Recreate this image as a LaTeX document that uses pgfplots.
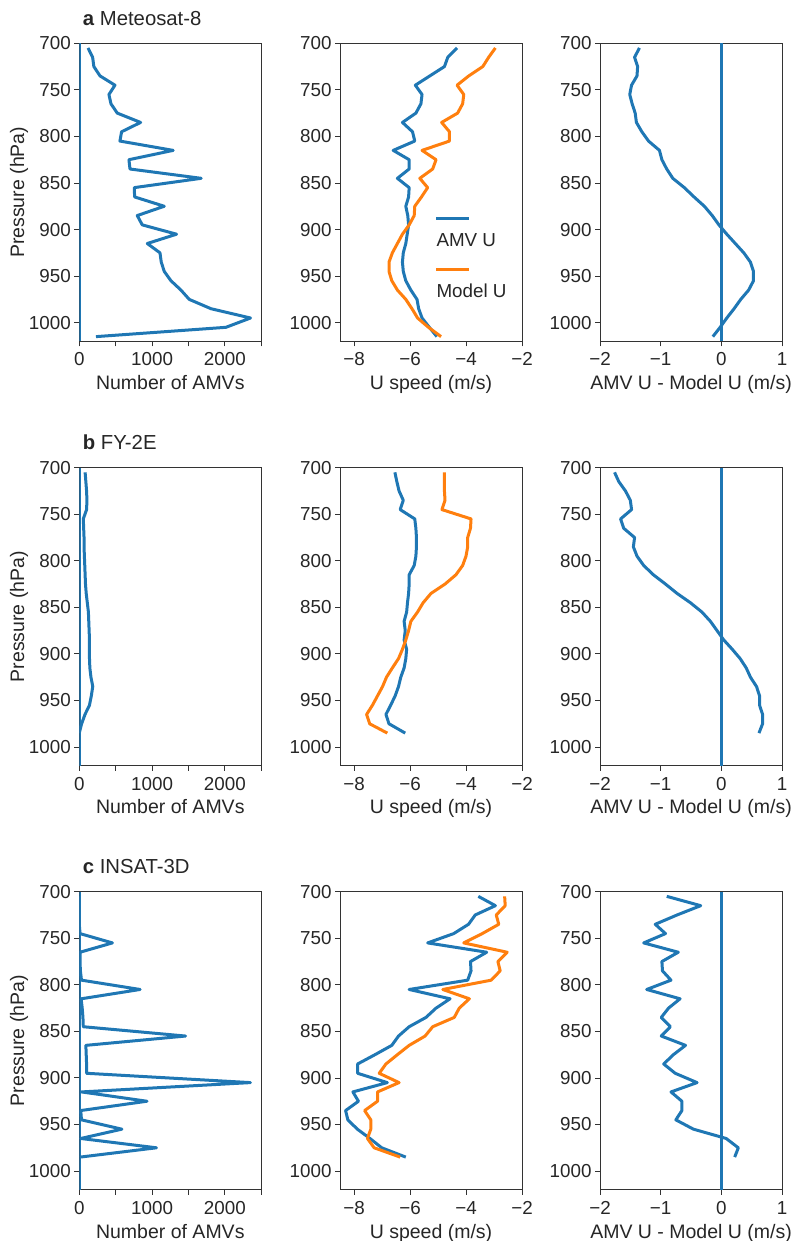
\documentclass[border=0pt]{standalone}
\usepackage{fontspec}
\setmainfont{Liberation Sans}
\usepackage{pgfplots}
\usepackage{pgfplotstable}
\pgfplotsset{compat=1.18}
\definecolor{mblue}{HTML}{1F77B4}
\definecolor{morange}{HTML}{FF7F0E}

\pgfplotstableread{
p n amv mod diff
705 120 -4.32 -2.95 -1.35
715 183 -4.65 -3.19 -1.43
725 200 -4.77 -3.40 -1.38
735 284 -5.29 -3.90 -1.39
745 490 -5.81 -4.32 -1.48
755 407 -5.57 -4.08 -1.51
765 435 -5.61 -4.12 -1.47
775 522 -5.79 -4.30 -1.42
785 842 -6.27 -4.87 -1.40
795 581 -5.91 -4.59 -1.31
805 558 -5.83 -4.59 -1.20
815 1290 -6.60 -5.57 -1.02
825 682 -6.03 -5.07 -0.98
835 696 -6.03 -5.19 -0.90
845 1675 -6.45 -5.65 -0.80
855 755 -6.03 -5.37 -0.61
865 760 -6.05 -5.59 -0.45
875 1167 -6.15 -5.83 -0.28
885 796 -6.08 -5.85 -0.15
895 865 -6.05 -6.03 -0.04
905 1336 -6.10 -6.27 0.09
915 934 -6.15 -6.45 0.23
925 1108 -6.24 -6.63 0.37
935 1126 -6.27 -6.75 0.48
945 1167 -6.24 -6.75 0.53
955 1259 -6.15 -6.65 0.53
965 1396 -5.97 -6.45 0.45
975 1510 -5.75 -6.15 0.32
985 1808 -5.69 -5.93 0.21
995 2352 -5.57 -5.73 0.09
1005 2014 -5.31 -5.34 -0.02
1015 229 -5.04 -4.89 -0.14
}\tabA

\pgfplotstableread{
p n amv mod diff
705 80 -6.54 -4.77 -1.76
715 90 -6.47 -4.77 -1.69
725 100 -6.39 -4.77 -1.58
735 105 -6.24 -4.75 -1.50
745 100 -6.35 -4.86 -1.48
755 55 -5.83 -3.82 -1.66
765 60 -5.79 -3.84 -1.61
775 65 -5.77 -3.94 -1.43
785 65 -5.77 -3.94 -1.45
795 70 -5.79 -4.00 -1.39
805 75 -5.85 -4.12 -1.28
815 80 -6.03 -4.36 -1.12
825 85 -6.03 -4.75 -0.92
835 95 -6.05 -5.25 -0.73
845 110 -6.09 -5.53 -0.51
855 125 -6.12 -5.73 -0.32
865 130 -6.21 -5.97 -0.18
875 135 -6.17 -6.05 -0.07
885 140 -6.21 -6.15 0.04
895 140 -6.12 -6.27 0.18
905 140 -6.15 -6.41 0.31
915 145 -6.21 -6.63 0.41
925 160 -6.33 -6.84 0.48
935 185 -6.41 -6.98 0.58
945 165 -6.53 -7.16 0.63
955 140 -6.69 -7.34 0.63
965 78 -6.86 -7.55 0.68
975 32 -6.75 -7.44 0.68
985 0 -6.17 -6.81 0.62
}\tabB

\pgfplotstableread{
p n amv mod diff
705 0 -3.56 -2.62 -0.90
715 0 -2.95 -2.60 -0.34
725 0 -3.67 -2.92 -0.73
735 0 -3.91 -2.83 -1.09
745 10 -4.44 -3.42 -0.92
755 455 -5.37 -4.08 -1.28
765 10 -3.26 -2.53 -0.71
775 10 -3.84 -2.86 -0.98
785 15 -3.82 -2.78 -0.97
795 30 -3.94 -3.10 -0.83
805 835 -6.03 -4.83 -1.23
815 25 -4.57 -3.88 -0.68
825 40 -5.07 -4.24 -0.87
835 50 -5.43 -4.42 -0.99
845 55 -6.03 -5.19 -0.84
855 1460 -6.41 -5.46 -0.99
865 90 -6.65 -6.03 -0.59
875 95 -7.25 -6.45 -0.79
885 100 -7.87 -6.86 -0.95
895 100 -7.87 -7.10 -0.76
905 2350 -6.81 -6.39 -0.40
915 30 -8.04 -7.16 -0.83
925 930 -7.84 -7.16 -0.65
935 20 -8.30 -7.62 -0.65
945 30 -8.22 -7.40 -0.75
955 585 -7.88 -7.40 -0.46
965 20 -7.43 -7.52 0.08
975 1060 -7.01 -7.28 0.28
985 10 -6.15 -6.35 0.22
}\tabC

\pgfplotsset{
  base/.style={scale only axis, width=182pt, height=298pt, anchor=north west,
    y dir=reverse, ymin=700, ymax=1020, ytick={700,750,...,1000},
    yticklabels={700,750,800,850,900,950,1000},
    axis line style={black!80, line width=0.9pt},
    tick style={black!80, line width=0.9pt},
    tick align=outside, major tick length=5pt,
    xtick pos=bottom, ytick pos=left,
    tick label style={font=\fontsize{18.8}{21}\selectfont, text=black!85},
    xticklabel style={yshift=-3pt},
    label style={font=\fontsize{19.5}{22}\selectfont, text=black!85},
    xlabel style={at={(axis description cs:0.5,-0.1621)}, anchor=base},
    ylabel style={at={(axis description cs:-0.3313,0.5)}, anchor=center},
    title style={at={(0,1)}, anchor=base west, yshift=12pt, font=\fontsize{20.3}{23}\selectfont, text=black!85},
  },
  pA/.style={base, xmin=0, xmax=2500, xtick={0,500,...,2500},
    xticklabels={0,,1000,,2000,}, xlabel={Number of AMVs}, ylabel={Pressure (hPa)}},
  pB/.style={base, xmin=-8.5, xmax=-2, xtick={-8,-6,-4,-2},
    xticklabels={−8,−6,−4,−2}, xlabel={U speed (m/s)}},
  pC/.style={base, xmin=-2, xmax=1, xtick={-2,-1,0,1},
    xticklabels={−2,−1,0,1}, xlabel={AMV U - Model U (m/s)}},
  dl/.style={line width=3pt, line join=round},
}

\begin{document}
\begin{tikzpicture}
\useasboundingbox (0pt,0pt) rectangle (793pt,1241pt);
% Row a
\begin{axis}[pA, at={(79.3pt,1197.7pt)}, title={\textbf{a} Meteosat-8}]
\addplot[mblue, dl] coordinates {(0,700) (0,1020)};
\addplot[mblue, dl] table[x=n, y=p]{\tabA};
\end{axis}
\begin{axis}[pB, at={(340pt,1197.7pt)}]
\addplot[mblue, dl] table[x=amv, y=p]{\tabA};
\addplot[morange, dl] table[x=mod, y=p]{\tabA};
\draw[mblue, line width=3pt] (axis cs:-5.06,888) -- (axis cs:-3.91,888);
\node[anchor=west, inner sep=0pt, font=\fontsize{18.8}{21}\selectfont, text=black!85] at (axis cs:-5.06,911) {AMV U};
\draw[morange, line width=3pt] (axis cs:-5.06,943) -- (axis cs:-3.91,943);
\node[anchor=west, inner sep=0pt, font=\fontsize{18.8}{21}\selectfont, text=black!85] at (axis cs:-5.06,966) {Model U};
\end{axis}
\begin{axis}[pC, at={(600pt,1197.7pt)}]
\addplot[mblue, dl] coordinates {(0,700) (0,1020)};
\addplot[mblue, dl] table[x=diff, y=p]{\tabA};
\end{axis}
% Row b
\begin{axis}[pA, at={(79.3pt,773.3pt)}, title={\textbf{b} FY-2E}]
\addplot[mblue, dl] coordinates {(0,700) (0,1020)};
\addplot[mblue, dl] table[x=n, y=p]{\tabB};
\end{axis}
\begin{axis}[pB, at={(340pt,773.3pt)}]
\addplot[mblue, dl] table[x=amv, y=p]{\tabB};
\addplot[morange, dl] table[x=mod, y=p]{\tabB};
\end{axis}
\begin{axis}[pC, at={(600pt,773.3pt)}]
\addplot[mblue, dl] coordinates {(0,700) (0,1020)};
\addplot[mblue, dl] table[x=diff, y=p]{\tabB};
\end{axis}
% Row c
\begin{axis}[pA, at={(79.3pt,349.3pt)}, title={\textbf{c} INSAT-3D}]
\addplot[mblue, dl] coordinates {(0,700) (0,1020)};
\addplot[mblue, dl] table[x=n, y=p]{\tabC};
\end{axis}
\begin{axis}[pB, at={(340pt,349.3pt)}]
\addplot[mblue, dl] table[x=amv, y=p]{\tabC};
\addplot[morange, dl] table[x=mod, y=p]{\tabC};
\end{axis}
\begin{axis}[pC, at={(600pt,349.3pt)}]
\addplot[mblue, dl] coordinates {(0,700) (0,1020)};
\addplot[mblue, dl] table[x=diff, y=p]{\tabC};
\end{axis}
\end{tikzpicture}
\end{document}
